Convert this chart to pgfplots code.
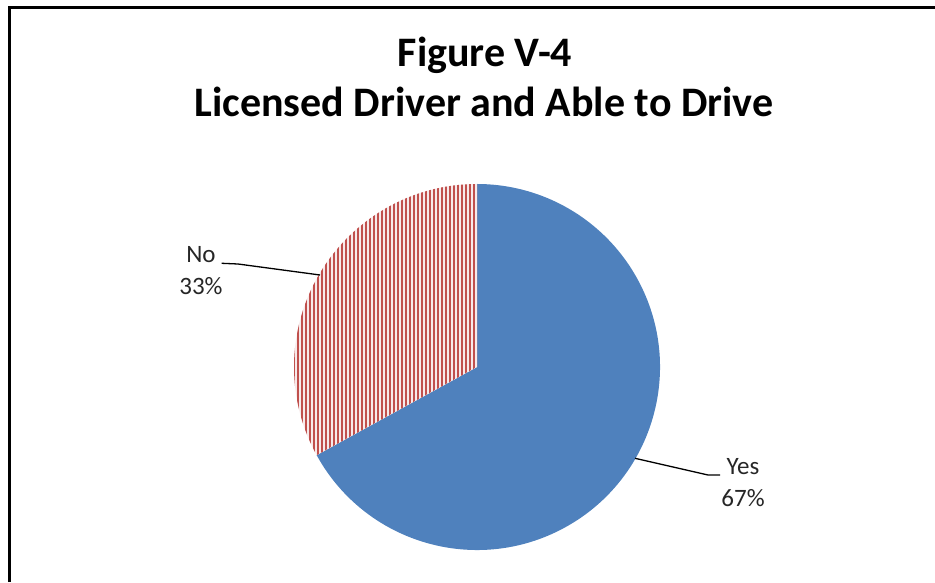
\documentclass[border=0pt]{standalone}
\usepackage{pgfplots}
\pgfplotsset{compat=1.18}
\usepackage{pgfplotstable}
\usepackage{fontspec}
\setmainfont{Carlito}
\definecolor{cBlue}{HTML}{4F81BD}
\definecolor{cRed}{HTML}{C0504D}
\pgfplotstableread{
label value
Yes 67
No 33
}\pietable
\begin{document}
\begin{tikzpicture}
\pgfplotstablegetelem{0}{value}\of\pietable \let\vYes\pgfplotsretval
\pgfplotstablegetelem{1}{value}\of\pietable \let\vNo\pgfplotsretval
\pgfmathsetmacro{\split}{90+360*\vNo/(\vYes+\vNo)}
\begin{axis}[
  scale only axis, width=935pt, height=582pt,
  xmin=0, xmax=935, ymin=0, ymax=582,
  hide axis, clip=false,
  at={(0,0)}, anchor=south west,
]
% pie: Yes
\fill[cBlue] (axis cs:477,215) -- ++(\split:183pt) arc[start angle=\split, end angle=450, radius=183pt] -- cycle;
% pie: No (vertical red stripes)
\begin{scope}
\clip (axis cs:477,215) -- ++(90:183pt) arc[start angle=90, end angle=\split, radius=183pt] -- cycle;
\fill[cRed!12] (axis cs:290,20) rectangle (axis cs:480,410);
\pgfplotsinvokeforeach{290,294,...,478}{
  \draw[cRed, line width=1.8pt] (axis cs:#1,20) -- (axis cs:#1,410);
}
\end{scope}
% leaders
\draw[line width=1.3pt] (axis cs:221.7,318.7) -- (axis cs:238,318) -- (axis cs:320,307);
\draw[line width=1.3pt] (axis cs:635,123.7) -- (axis cs:708,107) -- (axis cs:720,107);
% labels
\node[font=\fontsize{25}{25}\selectfont, text=black!85, anchor=base] at (axis cs:201,319) {No};
\node[font=\fontsize{25}{25}\selectfont, text=black!85, anchor=base] at (axis cs:201,287) {\vNo\%};
\node[font=\fontsize{25}{25}\selectfont, text=black!85, anchor=base] at (axis cs:743,107) {Yes};
\node[font=\fontsize{25}{25}\selectfont, text=black!85, anchor=base] at (axis cs:743,75.3) {\vYes\%};
% title
\node[font=\fontsize{42}{42}\selectfont\bfseries, anchor=base] at (axis cs:485,515) {Figure V-4};
\node[font=\fontsize{42}{42}\selectfont\bfseries, anchor=base] at (axis cs:484,465.3) {Licensed Driver and Able to Drive};
% frame
\draw[line width=3pt] (axis cs:9.5,0) -- (axis cs:9.5,574.5) -- (axis cs:935,574.5);
\end{axis}
\pgfresetboundingbox
\useasboundingbox (0,0) rectangle (935pt,582pt);
\end{tikzpicture}
\end{document}
